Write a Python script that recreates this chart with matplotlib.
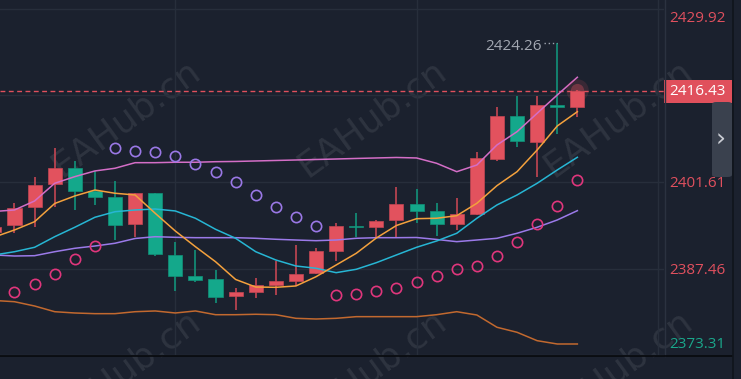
import numpy as np
import matplotlib
matplotlib.use("Agg")
import matplotlib.pyplot as plt
from matplotlib.patches import Rectangle, FancyBboxPatch
from matplotlib.lines import Line2D
import matplotlib.transforms as mtransforms

plt.rcParams['font.family'] = ['Open Sans', 'DejaVu Sans']

# ---------------- data ----------------
idx = list(range(-1, 29))
opens = [2393.45, 2394.59, 2397.53, 2401.23, 2403.85, 2400.19, 2399.11, 2394.71, 2399.77, 2389.70,
         2386.27, 2385.73, 2383.05, 2383.71, 2384.85, 2385.50, 2386.71, 2390.40, 2394.36, 2394.22,
         2395.41, 2397.97, 2396.88, 2394.71, 2396.34, 2405.31, 2412.38, 2408.19, 2414.10, 2413.90]
highs = [2394.60, 2398.13, 2402.48, 2407.11, 2405.04, 2403.41, 2401.77, 2399.85, 2399.85, 2391.77,
         2390.51, 2387.25, 2384.26, 2385.89, 2388.72, 2391.33, 2390.79, 2394.87, 2396.50, 2395.33,
         2400.84, 2400.42, 2398.13, 2398.95, 2406.46, 2413.80, 2415.65, 2415.65, 2424.26, 2416.60]
lows = [2393.10, 2393.24, 2394.22, 2397.58, 2397.04, 2397.86, 2392.14, 2392.68, 2389.58, 2383.87,
        2385.24, 2381.81, 2380.72, 2382.63, 2383.17, 2384.64, 2386.60, 2388.72, 2392.63, 2392.47,
        2392.68, 2394.87, 2392.85, 2393.78, 2396.25, 2405.09, 2407.37, 2402.48, 2409.40, 2412.27]
closes = [2394.27, 2397.42, 2401.12, 2403.85, 2400.19, 2399.21, 2394.59, 2399.77, 2389.81, 2386.32,
          2385.62, 2382.79, 2383.61, 2384.75, 2385.50, 2386.64, 2390.35, 2394.43, 2394.28, 2395.24,
          2397.97, 2396.93, 2394.71, 2396.34, 2405.48, 2412.38, 2408.35, 2414.18, 2413.88, 2416.43]

ma_orange = [2392.63, 2393.78, 2395.13, 2398.10, 2399.33, 2400.30, 2399.77, 2399.49, 2396.50, 2393.61,
             2391.05, 2388.60, 2385.70, 2384.47, 2384.42, 2384.64, 2386.15, 2388.06, 2389.97, 2392.47,
             2394.51, 2395.62, 2395.69, 2396.11, 2398.13, 2401.01, 2403.29, 2406.83, 2410.75, 2413.08]
band_upper = [2396.80, 2397.04, 2398.51, 2401.40, 2402.48, 2403.41, 2403.85, 2404.76, 2404.76, 2404.83,
              2404.83, 2404.92, 2404.96, 2405.04, 2405.12, 2405.20, 2405.28, 2405.36, 2405.45, 2405.53,
              2405.61, 2405.53, 2404.66, 2403.29, 2404.38, 2407.65, 2409.82, 2412.82, 2415.81, 2418.70]
ma_cyan = [2389.70, 2390.23, 2390.95, 2392.68, 2394.22, 2395.85, 2396.76, 2397.04, 2397.20, 2396.88,
           2395.69, 2393.89, 2392.42, 2390.23, 2388.88, 2387.90, 2387.53, 2386.81, 2387.36, 2388.44,
           2389.70, 2390.95, 2391.98, 2393.24, 2395.69, 2397.86, 2399.49, 2401.40, 2403.57, 2405.64]
ma_purple = [2389.70, 2389.53, 2389.58, 2390.23, 2390.79, 2391.16, 2391.61, 2392.39, 2392.68, 2392.58,
             2392.52, 2392.52, 2392.52, 2392.42, 2392.26, 2392.14, 2392.03, 2392.14, 2392.42, 2392.52,
             2392.52, 2392.55, 2392.23, 2391.87, 2392.14, 2392.42, 2393.24, 2394.22, 2395.41, 2396.93]
band_lower = [2382.27, 2382.07, 2381.37, 2380.44, 2380.23, 2380.12, 2380.12, 2380.44, 2380.56, 2380.23,
              2380.56, 2379.95, 2379.95, 2380.02, 2379.95, 2379.36, 2379.25, 2379.36, 2379.63, 2379.63,
              2379.63, 2379.63, 2379.95, 2380.44, 2379.90, 2377.90, 2377.08, 2375.71, 2375.17, 2375.17]

sar_above_idx = [5, 6, 7, 8, 9, 10, 11, 12, 13, 14, 15]
sar_above = [2407.11, 2406.72, 2406.46, 2405.85, 2404.50, 2403.19, 2401.53, 2399.49, 2397.58, 2395.90, 2394.43]
sar_below_idx = [0, 1, 2, 3, 4, 16, 17, 18, 19, 20, 21, 22, 23, 24, 25, 26, 27, 28]
sar_below = [2383.71, 2384.91, 2386.59, 2389.09, 2391.21, 2383.09, 2383.33, 2383.87, 2384.36, 2385.29,
             2386.27, 2387.33, 2387.82, 2389.53, 2391.87, 2394.76, 2397.69, 2401.94]

tick_values = [2429.92, 2415.77, 2401.61, 2387.46, 2373.31]
tick_labels = ["2429.92", "", "2401.61", "2387.46", "2373.31"]
tick_colors = ["#e0505e", "#e0505e", "#e0505e", "#e0505e", "#1aa78b"]
vgrid_idx = [8, 20, 32]
last_price = 2416.43
high_idx = 27
high_value = 2424.26
watermark = "EAHub.cn"

# ---------------- style ----------------
W, H = 741, 379
BG = "#1b212e"
GRID = "#272e3b"
RED = "#e2525e"
RED_W = "#c44653"
TEAL = "#14a88b"
TEAL_W = "#12927a"

fig = plt.figure(figsize=(W / 100, H / 100), dpi=100)
fig.patch.set_facecolor(BG)

def fx(px):
    return px / W

def fy(py):
    return 1 - py / H

ax = fig.add_axes([0, fy(356), fx(664), 356 / H])
ax.set_facecolor("none")
ax.set_xlim(-0.721, 32.31)
ax.set_ylim(2373.21, 2431.31)
for s in ax.spines.values():
    s.set_visible(False)
ax.set_xticks([])
ax.set_yticks([])

# watermarks (behind everything; the lower row runs off the bottom edge as in the original)
for cx in (126, 372, 618):
    for cy in (118, 368):
        fig.text(fx(cx), fy(cy), watermark, rotation=36, fontsize=26, color="#ffffff",
                 alpha=0.085, ha="center", va="center", zorder=-5, family="DejaVu Sans")

# grid
for tv in tick_values:
    ax.axhline(tv, color=GRID, lw=1.0, zorder=1)
for gx in vgrid_idx:
    ax.axvline(gx, color=GRID, lw=1.0, zorder=1)

# candles
x = np.array(idx)
o = np.array(opens); c = np.array(closes); h = np.array(highs); l = np.array(lows)
up = c >= o
body_col = np.where(up, RED, TEAL)
wick_col = np.where(up, RED_W, TEAL_W)
ax.vlines(x, l, h, colors=wick_col, lw=1.2, zorder=2)
bottom = np.minimum(o, c)
height = np.maximum(np.abs(c - o), 0.2)
ax.bar(x, height, bottom=bottom, width=0.7, color=body_col, edgecolor=wick_col,
       linewidth=0.5, zorder=3)

# lines
lw = 1.1
ax.plot(x, band_lower, color="#c2692f", lw=lw, zorder=4)
ax.plot(x, ma_purple, color="#9b7ae9", lw=lw, zorder=4)
ax.plot(x, ma_cyan, color="#27b6d4", lw=lw, zorder=4)
ax.plot(x, band_upper, color="#d46ec7", lw=lw, zorder=4)
ax.plot(x, ma_orange, color="#f4a13d", lw=lw, zorder=4)

# SAR circles
ax.plot(sar_above_idx, sar_above, ls="none", marker="o", ms=7.4, mfc="none",
        mec="#9a78e6", mew=1.2, zorder=5)
ax.plot(sar_below_idx, sar_below, ls="none", marker="o", ms=7.4, mfc="none",
        mec="#e0367c", mew=1.2, zorder=5)

# last price line and glow
ax.axhline(last_price, color="#e0505c", lw=1.0, ls=(0, (3.5, 2.5)), zorder=2)
ax.scatter([idx[-1]], [highs[-1]], s=260, color=RED, alpha=0.15, lw=0, zorder=6)
ax.scatter([idx[-1]], [highs[-1]], s=90, color=RED, alpha=0.35, lw=0, zorder=6)

# high annotation
ax.plot([high_idx - 0.68, high_idx], [high_value, high_value], color="#9ea4ae",
        lw=1.0, ls=(0, (1, 2)), zorder=5)
hx = mtransforms.offset_copy(ax.transData, fig=fig, x=-16, y=-3, units="dots")
ax.text(high_idx, high_value, f"{high_value:.2f}", transform=hx, ha="right", va="center",
        fontsize=11, color="#a3a8b2", zorder=6)

# frame lines
fig.add_artist(Line2D([fx(664.5), fx(664.5)], [fy(356), 1], color="#2b3240", lw=1.0))
fig.add_artist(Line2D([0, fx(732)], [fy(356), fy(356)], color="#07090d", lw=1.2))
fig.add_artist(Line2D([fx(732.5), fx(732.5)], [0, 1], color="#10141b", lw=1.2))

# right axis labels
for tv, tl, tc in zip(tick_values, tick_labels, tick_colors):
    if not tl:
        continue
    ypx = H - ax.transData.transform((0, tv))[1]
    ypx = min(max(ypx + 2, 19), 345)
    fig.text(fx(669), fy(ypx), tl, ha="left", va="center", fontsize=11, color=tc)

# price box
ypx = H - ax.transData.transform((0, last_price))[1]
fig.add_artist(Rectangle((fx(664), fy(ypx + 11.5)), fx(732) - fx(664), 23 / H,
                         facecolor="#e0505c", edgecolor="none"))
fig.text(fx(669), fy(ypx), f"{last_price:.2f}", ha="left", va="center", fontsize=11,
         color="#ffffff")

# side tab
fig.add_artist(FancyBboxPatch((fx(712), fy(177)), fx(20), 75 / H,
                              boxstyle="round,pad=0,rounding_size=0.006",
                              facecolor="#3a414e", edgecolor="none"))
fig.text(fx(721), fy(140), "\u203a", ha="center", va="center", fontsize=18,
         color="#c9ccd3", family="DejaVu Sans")

fig.savefig("out.png", dpi=100, facecolor=BG)
